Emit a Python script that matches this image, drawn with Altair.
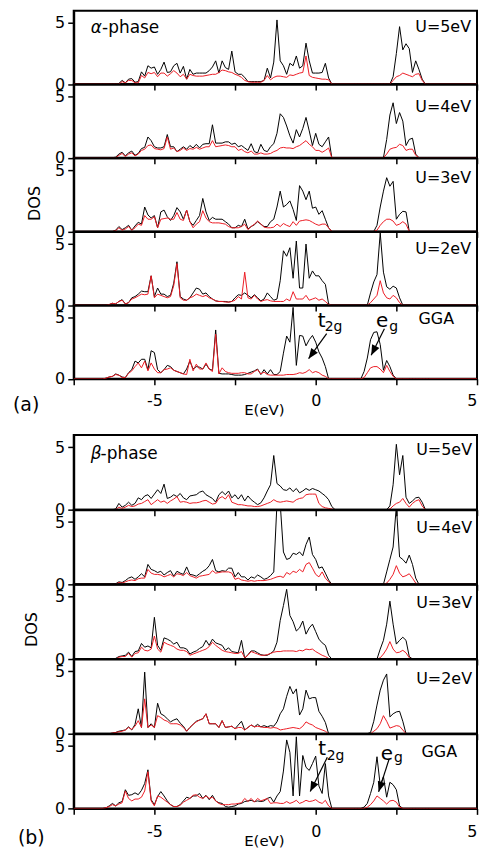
import math
import altair as alt
import pandas as pd

# ---------------- energy grids (eV) ----------------
E_VB = [-6.6, -6.5, -6.4, -6.3, -6.2, -6.1, -6.0, -5.9, -5.8, -5.7,
        -5.6, -5.5, -5.4, -5.3, -5.2, -5.1, -5.0, -4.9, -4.8, -4.7,
        -4.6, -4.5, -4.4, -4.3, -4.2, -4.1, -4.0, -3.9, -3.8, -3.7,
        -3.6, -3.5, -3.4, -3.3, -3.2, -3.1, -3.0, -2.9, -2.8, -2.7,
        -2.6, -2.5, -2.4, -2.3, -2.2, -2.1, -2.0, -1.9, -1.8, -1.7,
        -1.6, -1.5, -1.4, -1.3, -1.2, -1.1, -1.0, -0.9, -0.8, -0.7,
        -0.6, -0.5, -0.4, -0.3, -0.2, -0.1, 0.0, 0.1, 0.2, 0.3,
        0.4, 0.5, 0.6]
E_CB = [1.2, 1.3, 1.4, 1.5, 1.6, 1.7, 1.8, 1.9, 2.0, 2.1, 2.2, 2.3,
        2.4, 2.5, 2.6, 2.7, 2.8, 2.9, 3.0, 3.1, 3.2, 3.3, 3.4, 3.5]
E_MIN, E_MAX = -7.5, 5.0

# ---------------- (a) alpha-phase ----------------
a_u5_black_vb = [0, 0, 0, 0, 0, 0.05, 0.3, 0.1, 0.4, 0.45,
                 0.15, 0.2, 1.0, 0.65, 1.5, 1.3, 1.4, 0.8, 1.2, 1.8,
                 0.95, 1.0, 1.5, 1.7, 0.9, 1.45, 0.4, 1.2, 0.8, 0.9,
                 0.9, 0.9, 0.9, 1.1, 1.4, 1.9, 0.9, 1.9, 1.35, 1.2,
                 2.7, 1.0, 0.8, 0.8, 0.55, 0.2, 0.2, 0.2, 0.2, 0.2,
                 0.3, 1.3, 0.5, 1.8, 5.25, 1.9, 1.5, 0.8, 1.7, 1.5,
                 2.3, 1.3, 1.5, 3.35, 1.9, 0.9, 0.9, 0.9, 0.95, 1.7,
                 0.5, 0, 0]
a_u5_red_vb = [0, 0, 0, 0, 0, 0, 0.2, 0.1, 0.3, 0.3,
               0.1, 0.1, 0.7, 0.5, 0.95, 0.85, 0.95, 0.6, 0.9, 0.9,
               0.65, 0.85, 1.1, 0.9, 0.6, 0.8, 0.4, 0.8, 0.7, 0.65,
               0.65, 0.65, 0.7, 0.75, 0.8, 0.8, 0.95, 1.15, 1.1, 1.0,
               0.95, 0.8, 0.7, 0.55, 0.3, 0.2, 0.15, 0.15, 0.15, 0.15,
               0.3, 0.7, 0.35, 0.55, 0.65, 0.65, 0.6, 0.55, 0.75, 0.7,
               0.8, 0.9, 0.95, 2.3, 0.7, 0.55, 0.5, 0.45, 0.4, 0.4,
               0.35, 0, 0]
a_u5_black_cb = [0, 0, 0, 0, 0, 0, 0, 0, 0, 0, 0, 0,
                 0.6, 2.5, 4.7, 2.8, 3.3, 2.9, 0.95, 1.9, 1.2, 0.4, 0, 0]
a_u5_red_cb = [0, 0, 0, 0, 0, 0, 0, 0, 0, 0, 0, 0,
               0.3, 0.6, 0.7, 0.9, 0.8, 0.7, 0.6, 0.8, 0.85, 0.3, 0, 0]

a_u4_black_vb = [0, 0, 0, 0, 0.05, 0.3, 0.45, 0.15, 0.4, 0.55,
                 0.2, 0.35, 0.75, 0.85, 1.7, 1.4, 0.9, 0.8, 0.8, 0.9,
                 1.9, 0.9, 0.9, 0.5, 0.7, 0.9, 0.7, 1.0, 0.8, 1.1,
                 0.8, 1.1, 1.15, 1.15, 2.7, 1.2, 1.2, 1.2, 1.3, 1.3,
                 1.1, 1.2, 0.9, 1.0, 0.8, 0.6, 1.15, 0.5, 0.4, 1.1,
                 0.6, 0.5, 0.9, 1.15, 2.0, 3.6, 3.3, 2.6, 1.8, 1.2,
                 2.3, 1.7, 2.4, 3.3, 2.2, 1.0, 2.0, 1.1, 0.9, 1.3,
                 1.7, 0, 0]
a_u4_red_vb = [0, 0, 0, 0, 0, 0.2, 0.35, 0.1, 0.3, 0.4,
               0.15, 0.3, 0.6, 0.7, 1.0, 1.05, 0.75, 0.7, 0.65, 0.75,
               1.7, 0.7, 0.8, 0.5, 0.6, 0.8, 0.6, 0.75, 0.7, 0.85,
               0.7, 0.8, 0.9, 0.9, 1.4, 0.9, 0.95, 1.0, 1.05, 1.0,
               0.9, 0.9, 0.6, 0.7, 0.5, 0.4, 0.55, 0.3, 0.3, 0.4,
               0.3, 0.3, 0.35, 0.5, 0.6, 0.8, 0.85, 0.8, 0.8, 0.75,
               0.9, 1.0, 1.2, 1.4, 1.1, 0.9, 0.6, 0.6, 0.45, 0.6,
               0.8, 0, 0]
a_u4_black_cb = [0, 0, 0, 0, 0, 0, 0, 0, 0, 0,
                 1.5, 3.5, 4.5, 2.8, 3.7, 3.0, 1.0, 1.5, 1.6, 0.3, 0, 0, 0, 0]
a_u4_red_cb = [0, 0, 0, 0, 0, 0, 0, 0, 0, 0,
               0.3, 0.7, 0.8, 0.85, 1.1, 1.0, 0.6, 0.7, 0.7, 0.2, 0, 0, 0, 0]

a_u3_black_vb = [0, 0, 0, 0, 0.1, 0.4, 0.15, 0.3, 0.5, 0.1,
                 0.45, 0.75, 0.6, 2.0, 1.35, 1.1, 1.3, 0.3, 1.6, 1.75,
                 1.2, 0.9, 1.3, 1.95, 1.6, 1.0, 1.75, 0.8, 0.5, 0.9,
                 1.3, 2.7, 1.6, 0.9, 1.15, 1.0, 1.0, 1.0, 0.8, 0.6,
                 0.3, 0.3, 0.5, 0.4, 1.0, 0.2, 0.4, 0.55, 0.8, 0.6,
                 0.4, 0.4, 0.8, 1.0, 2.0, 3.3, 2.0, 2.2, 2.5, 1.8,
                 0.9, 3.75, 3.3, 2.6, 3.3, 1.9, 2.0, 1.4, 1.7, 1.0,
                 0.3, 0, 0]
a_u3_red_vb = [0, 0, 0, 0, 0.05, 0.3, 0.1, 0.2, 0.4, 0.1,
               0.3, 0.6, 0.5, 1.3, 1.0, 1.0, 1.2, 0.3, 1.0, 1.05,
               1.1, 1.0, 1.0, 1.55, 1.0, 0.9, 1.75, 0.8, 0.3, 0.6,
               0.8, 1.7, 1.1, 0.8, 0.7, 0.7, 0.7, 0.65, 0.6, 0.4,
               0.3, 0.3, 0.3, 0.4, 0.6, 0.15, 0.4, 0.6, 0.85, 0.6,
               0.35, 0.3, 0.3, 0.35, 0.6, 0.4, 0.65, 0.5, 0.4, 0.8,
               0.5, 0.85, 0.9, 0.95, 0.9, 0.75, 0.6, 0.5, 0.6, 0.6,
               0.3, 0, 0]
a_u3_black_cb = [0, 0, 0, 0, 0, 0, 0,
                 0.5, 2.0, 3.3, 4.4, 3.7, 4.1, 1.0, 1.4, 1.65, 1.6, 0, 0, 0, 0, 0, 0, 0]
a_u3_red_cb = [0, 0, 0, 0, 0, 0, 0,
               0.1, 0.5, 0.8, 1.0, 1.0, 0.85, 0.5, 0.6, 0.8, 0.6, 0, 0, 0, 0, 0, 0, 0]

a_u2_black_vb = [0, 0, 0.05, 0.15, 0.1, 0.3, 0.45, 0.1, 0.2, 0.6,
                 0.7, 0.9, 1.15, 1.1, 1.1, 2.4, 0.7, 1.4, 0.9, 0.9,
                 0.7, 0.8, 1.8, 3.55, 0.7, 0.5, 0.4, 0.6, 1.0, 1.4,
                 1.3, 0.9, 1.0, 0.7, 0.5, 0.35, 0.3, 0.3, 0.3, 0.25,
                 0.3, 0.6, 0.85, 0.8, 1.0, 0.8, 0.6, 0.85, 0.6, 0.35,
                 0.5, 1.0, 0.7, 0.4, 0.5, 2.0, 4.45, 4.0, 4.7, 2.2,
                 5.25, 1.4, 1.4, 5.0, 2.2, 2.8, 2.4, 2.4, 2.0, 1.7,
                 0.1, 0, 0]
a_u2_red_vb = [0, 0, 0.05, 0.15, 0.1, 0.3, 0.4, 0.1, 0.2, 0.5,
               0.6, 0.75, 0.9, 0.85, 0.9, 2.4, 0.6, 0.9, 0.8, 0.7,
               0.6, 0.7, 1.6, 3.4, 0.6, 0.4, 0.4, 0.6, 0.7, 0.9,
               0.8, 0.7, 0.8, 0.6, 0.5, 0.35, 0.3, 0.3, 0.25, 0.25,
               0.3, 0.4, 0.7, 0.5, 2.7, 0.6, 0.5, 0.8, 0.5, 0.3,
               0.4, 0.45, 0.35, 0.3, 0.3, 0.3, 0.3, 0.5, 0.35, 1.1,
               0.5, 0.5, 0.5, 0.8, 0.4, 0.5, 0.6, 0.4, 0.5, 0.3,
               0.05, 0, 0]
a_u2_black_cb = [0, 0, 0, 0, 0,
                 1.0, 1.9, 2.5, 5.9, 2.7, 1.5, 1.3, 1.55, 1.4, 0.6, 0, 0, 0, 0, 0, 0, 0, 0, 0]
a_u2_red_cb = [0, 0, 0, 0, 0,
               0.2, 0.5, 0.8, 2.0, 1.0, 0.6, 0.5, 0.8, 0.6, 0.2, 0, 0, 0, 0, 0, 0, 0, 0, 0]

a_gga_black_vb = [0, 0.05, 0.15, 0.2, 0.4, 0.3, 0.15, 0.1, 0.5, 0.75,
                  1.45, 1.3, 1.6, 1.6, 0.75, 2.3, 2.15, 0.75, 0.5, 0.75,
                  1.1, 1.0, 0.7, 0.6, 0.5, 0.4, 0.8, 1.45, 0.8, 1.0,
                  0.95, 0.8, 1.2, 0.8, 0.7, 4.0, 0.45, 0.4, 0.4, 0.4,
                  0.35, 0.3, 0.3, 0.3, 0.35, 0.45, 0.55, 0.65, 0.8, 0.35,
                  0.75, 0.4, 0.75, 0.35, 0.35, 0.6, 2.1, 3.5, 3.0, 5.85,
                  1.1, 3.55, 3.5, 2.7, 3.2, 3.55, 3.0, 2.2, 1.7, 1.0,
                  0, 0, 0]
a_gga_red_vb = [0, 0.05, 0.15, 0.2, 0.35, 0.3, 0.1, 0.1, 0.45, 0.65,
                1.0, 1.3, 0.9, 1.45, 0.65, 1.3, 0.8, 0.5, 0.5, 0.75,
                0.8, 0.9, 0.7, 0.6, 0.5, 0.4, 0.35, 1.6, 0.65, 1.2,
                0.8, 0.8, 1.3, 0.8, 0.6, 3.65, 0.4, 0.9, 0.6, 0.5,
                0.45, 0.45, 0.45, 0.5, 0.5, 0.4, 0.4, 0.6, 0.75, 0.4,
                0.55, 0.35, 0.3, 0.3, 0.3, 0.3, 0.3, 0.35, 0.35, 0.35,
                0.4, 0.5, 0.45, 0.55, 0.75, 0.5, 0.6, 0.5, 0.3, 0.2,
                0, 0, 0]
a_gga_black_cb = [0, 0, 0,
                  0.6, 1.7, 3.2, 3.8, 3.85, 2.8, 0.7, 1.5, 1.0, 0.3, 0, 0, 0, 0, 0, 0, 0, 0, 0, 0, 0]
a_gga_red_cb = [0, 0, 0,
                0.1, 0.5, 0.9, 1.0, 1.0, 0.8, 0.5, 1.1, 0.6, 0.2, 0, 0, 0, 0, 0, 0, 0, 0, 0, 0, 0]

# ---------------- (b) beta-phase ----------------
b_u5_black_vb = [0, 0, 0, 0, 0.05, 0.5, 0.2, 0.35, 0.6, 0.35,
                 0.5, 0.95, 0.8, 1.1, 1.2, 0.9, 1.25, 1.6, 1.3, 2.05,
                 0.9, 1.0, 1.2, 1.05, 1.3, 0.95, 0.8, 1.1, 1.15, 1.2,
                 1.4, 1.5, 1.2, 1.05, 0.9, 0.6, 1.2, 1.45, 1.2, 1.5,
                 0.95, 1.2, 0.85, 1.2, 0.7, 1.1, 0.8, 0.6, 0.4, 0.55,
                 0.95, 1.5, 2.0, 4.35, 2.1, 1.9, 1.6, 1.55, 1.75, 1.45,
                 1.7, 1.35, 1.5, 1.7, 1.55, 1.7, 1.6, 1.5, 1.3, 1.1,
                 0.8, 0.25, 0]
b_u5_red_vb = [0, 0, 0, 0, 0, 0.2, 0.1, 0.2, 0.35, 0.25,
               0.3, 0.45, 0.5, 0.65, 0.8, 0.4, 0.6, 0.8, 0.6, 0.7,
               0.5, 0.7, 0.85, 1.05, 0.6, 0.65, 0.6, 0.5, 0.55, 0.55,
               0.6, 0.7, 0.75, 0.6, 0.45, 0.5, 0.9, 1.05, 0.85, 1.2,
               0.6, 0.5, 0.4, 0.4, 0.35, 0.3, 0.3, 0.25, 0.25, 0.3,
               0.4, 0.5, 0.6, 0.8, 0.65, 0.6, 0.65, 0.7, 0.65, 0.6,
               0.8, 0.9, 0.95, 1.2, 1.25, 1.25, 1.25, 0.5, 0.25, 0.15,
               0.1, 0.05, 0]
b_u5_black_cb = [0, 0, 0, 0, 0, 0, 0, 0, 0, 0, 0,
                 0.3, 2.0, 5.25, 2.8, 4.35, 1.0, 0.5, 0.7, 0.95, 1.0, 0.6, 0, 0]
b_u5_red_cb = [0, 0, 0, 0, 0, 0, 0, 0, 0, 0, 0,
               0.05, 0.3, 0.5, 0.6, 0.9, 0.5, 0.2, 0.5, 0.7, 0.8, 0.3, 0, 0]

b_u4_black_vb = [0, 0, 0, 0, 0.05, 0.2, 0.15, 0.3, 0.5, 0.6,
                 0.4, 0.6, 0.85, 0.6, 1.6, 1.2, 1.1, 0.95, 1.05, 0.75,
                 0.95, 1.1, 0.65, 1.05, 0.9, 0.8, 1.4, 0.8, 0.75, 0.65,
                 0.85, 1.05, 1.2, 1.5, 2.0, 1.1, 1.0, 1.1, 1.05, 1.3,
                 1.3, 0.6, 0.95, 0.6, 0.6, 0.35, 0.6, 0.5, 0.75, 0.6,
                 0.4, 0.5, 0.7, 1.0, 6.5, 6.5, 2.6, 2.0, 2.1, 2.5,
                 2.4, 2.6, 2.3, 3.2, 3.8, 2.4, 2.0, 1.3, 1.4, 0.9,
                 0.35, 0, 0]
b_u4_red_vb = [0, 0, 0, 0, 0, 0.15, 0.1, 0.2, 0.3, 0.35,
               0.3, 0.45, 0.5, 0.5, 1.2, 0.9, 0.8, 0.8, 0.75, 0.6,
               0.7, 0.8, 0.6, 0.85, 0.8, 0.7, 0.95, 0.7, 0.6, 0.5,
               0.65, 0.7, 0.75, 0.8, 1.1, 0.9, 0.95, 1.0, 1.0, 1.0,
               0.9, 0.4, 0.5, 0.35, 0.3, 0.25, 0.3, 0.25, 0.3, 0.3,
               0.3, 0.35, 0.4, 0.5, 0.6, 0.65, 0.55, 0.95, 0.8, 1.05,
               0.95, 1.2, 1.0, 1.6, 1.75, 1.3, 0.8, 0.6, 1.0, 0.5,
               0.2, 0, 0]
b_u4_black_cb = [0, 0, 0, 0, 0, 0, 0, 0, 0, 0,
                 1.0, 2.0, 3.0, 6.3, 2.2, 2.0, 1.7, 2.35, 1.6, 0.5, 0, 0, 0, 0]
b_u4_red_cb = [0, 0, 0, 0, 0, 0, 0, 0, 0, 0,
               0.1, 0.4, 0.8, 1.5, 0.9, 0.6, 0.7, 0.85, 0.5, 0.1, 0, 0, 0, 0]

b_u3_black_vb = [0, 0, 0, 0, 0.05, 0.2, 0.25, 0.3, 0.55, 0.2,
                 0.6, 0.65, 1.25, 0.95, 1.05, 0.9, 3.35, 1.1, 0.7, 1.7,
                 1.6, 1.45, 1.2, 1.35, 0.9, 0.9, 0.8, 0.4, 0.55, 0.65,
                 0.85, 1.0, 1.5, 1.1, 1.6, 1.3, 1.2, 1.1, 0.7, 0.9,
                 0.6, 0.55, 0.5, 1.5, 0.05, 0.35, 0.65, 0.65, 0.5, 0.35,
                 0.3, 0.3, 0.45, 0.65, 1.35, 3.1, 4.3, 5.6, 3.5, 3.0,
                 2.25, 2.5, 3.05, 2.0, 2.5, 2.8, 2.2, 1.6, 1.3, 1.1,
                 0.3, 0, 0]
b_u3_red_vb = [0, 0, 0, 0, 0, 0.15, 0.2, 0.2, 0.45, 0.15,
               0.45, 0.5, 0.95, 0.7, 0.65, 0.8, 1.85, 0.8, 0.55, 1.35,
               1.2, 1.1, 1.0, 0.8, 0.7, 0.7, 0.6, 0.3, 0.4, 0.5,
               0.6, 0.7, 0.8, 1.0, 1.35, 1.1, 0.9, 0.7, 0.6, 0.55,
               0.5, 0.45, 0.45, 0.6, 0.1, 0.3, 0.6, 0.5, 0.4, 0.3,
               0.3, 0.35, 0.45, 0.55, 0.6, 0.6, 0.65, 0.65, 0.65, 0.65,
               0.6, 0.7, 0.65, 0.8, 0.75, 0.8, 0.6, 0.45, 0.3, 0.2,
               0.05, 0, 0]
b_u3_black_cb = [0, 0, 0, 0, 0, 0, 0, 0,
                 0.8, 1.5, 2.8, 4.65, 2.8, 1.2, 1.5, 1.75, 1.5, 0.2, 0, 0, 0, 0, 0, 0]
b_u3_red_cb = [0, 0, 0, 0, 0, 0, 0, 0,
               0.1, 0.4, 0.8, 1.4, 0.8, 0.5, 0.55, 0.7, 0.5, 0.1, 0, 0, 0, 0, 0, 0]

b_u2_black_vb = [0, 0, 0, 0.05, 0.1, 0.2, 0.25, 0.3, 0.55, 0.3,
                 0.75, 2.0, 0.5, 4.95, 0.5, 0.8, 0.5, 2.45, 1.6, 1.45,
                 1.2, 0.95, 1.1, 1.2, 0.85, 0.6, 0.2, 0.5, 0.75, 1.0,
                 1.1, 1.2, 1.6, 0.8, 0.8, 0.8, 0.5, 1.05, 0.5, 0.55,
                 0.6, 0.4, 0.7, 1.0, 0.3, 0.5, 0.7, 0.55, 0.75, 0.55,
                 0.65, 0.55, 0.65, 0.6, 0.95, 1.6, 2.0, 3.0, 3.8, 3.2,
                 3.6, 1.5, 2.0, 3.5, 2.8, 2.9, 2.9, 1.8, 1.4, 0.9,
                 0, 0, 0]
b_u2_red_vb = [0, 0, 0, 0.05, 0.1, 0.15, 0.2, 0.3, 0.5, 0.35,
               0.6, 1.05, 0.5, 2.8, 0.5, 0.7, 0.5, 1.45, 1.3, 1.1,
               1.0, 0.8, 0.8, 0.8, 0.7, 0.5, 0.2, 0.5, 0.75, 0.95,
               1.1, 1.2, 1.6, 0.8, 0.8, 0.8, 0.5, 1.05, 0.5, 0.55,
               0.6, 0.4, 0.5, 0.5, 0.3, 0.5, 0.7, 0.55, 0.6, 0.55,
               0.5, 0.5, 0.45, 0.5, 0.45, 0.3, 0.35, 0.4, 0.45, 0.5,
               0.45, 0.4, 0.6, 0.95, 0.8, 0.7, 0.5, 0.4, 0.3, 0.2,
               0, 0, 0]
b_u2_black_cb = [0, 0, 0, 0, 0,
                 0.1, 1.0, 2.3, 3.5, 4.3, 4.8, 1.35, 1.6, 1.75, 1.8, 1.0, 0, 0, 0, 0, 0, 0, 0, 0]
b_u2_red_cb = [0, 0, 0, 0, 0,
               0, 0.2, 0.4, 0.8, 1.45, 1.0, 0.45, 0.55, 0.65, 0.6, 0.3, 0, 0, 0, 0, 0, 0, 0, 0]

b_gga_black_vb = [0, 0.05, 0.2, 0.4, 0.2, 0.45, 0.55, 1.5, 1.05, 1.1,
                  1.25, 1.1, 1.45, 2.0, 3.1, 0.7, 0.3, 0.95, 1.35, 1.0,
                  0.6, 0.3, 0.15, 0.15, 0.3, 0.6, 0.9, 0.8, 1.0, 1.0,
                  1.2, 0.8, 1.05, 0.7, 1.05, 0.6, 0.45, 0.4, 0.15, 0.1,
                  0.15, 0.2, 0.35, 0.4, 0.55, 0.6, 0.65, 0.55, 0.6, 0.55,
                  0.6, 0.8, 0.9, 0.5, 1.0, 1.35, 3.0, 5.5, 4.5, 1.0,
                  5.75, 1.0, 4.25, 3.3, 3.05, 3.6, 4.2, 1.8, 1.2, 3.6,
                  1.0, 0, 0]
b_gga_red_vb = [0, 0.05, 0.15, 0.3, 0.2, 0.35, 0.45, 1.4, 0.8, 0.6,
                0.75, 0.75, 0.9, 1.4, 2.95, 0.6, 0.2, 1.0, 0.9, 0.7,
                0.5, 0.3, 0.15, 0.15, 0.25, 0.5, 0.65, 0.8, 1.05, 1.1,
                0.9, 0.8, 1.0, 0.8, 0.9, 0.6, 0.4, 0.3, 0.3, 0.3,
                0.35, 0.35, 0.4, 0.45, 0.8, 0.55, 0.8, 0.5, 0.8, 0.6,
                0.7, 0.8, 0.4, 0.45, 0.45, 0.4, 0.4, 0.55, 0.4, 0.5,
                0.65, 0.4, 0.5, 0.65, 0.55, 0.6, 0.7, 0.5, 0.4, 0.65,
                0.2, 0, 0]
b_gga_black_cb = [0, 0, 0,
                  0.1, 0.4, 1.2, 2.1, 4.15, 1.85, 2.55, 0.9, 2.1, 1.9, 1.5, 0.2, 0, 0, 0, 0, 0, 0, 0, 0, 0]
b_gga_red_cb = [0, 0, 0,
                0, 0.1, 0.3, 0.6, 1.0, 0.8, 0.6, 0.35, 0.6, 0.65, 0.5, 0.1, 0, 0, 0, 0, 0, 0, 0, 0, 0]

# ---------------- labels & annotations ----------------
A_LABELS = ["U=5eV", "U=4eV", "U=3eV", "U=2eV", "GGA"]
B_LABELS = ["U=5eV", "U=4eV", "U=3eV", "U=2eV", "GGA"]

# arrows: start (E, DOS) -> tip (E, DOS)
A_ARROW_E0 = [0.34, 2.13]
A_ARROW_D0 = [3.7, 4.1]
A_ARROW_E1 = [-0.22, 1.72]
A_ARROW_D1 = [1.65, 1.93]
B_ARROW_E0 = [0.36, 2.28]
B_ARROW_D0 = [4.1, 4.0]
B_ARROW_E1 = [-0.17, 1.95]
B_ARROW_D1 = [1.35, 1.33]

# orbital labels (main letter, subscript)
A_ORB_TEXT = ["t", "e"]
A_ORB_E = [0.06, 1.87]
A_ORB_D = [4.21, 4.21]
A_SUB_TEXT = ["2g", "g"]
A_SUB_E = [0.28, 2.28]
A_SUB_D = [3.95, 3.95]
B_ORB_TEXT = ["t", "e"]
B_ORB_E = [0.08, 2.02]
B_ORB_D = [4.26, 3.86]
B_SUB_TEXT = ["2g", "g"]
B_SUB_E = [0.34, 2.43]
B_SUB_D = [3.86, 3.73]

FONT = "DejaVu Sans"
RED = "#ec1c24"
W = 405
X_TICKS = [-7.5, -5, -2.5, 0, 2.5, 5]
Y_TICKS = [0, 2.5, 5]

GROUPS = [
    dict(
        key="a", h=73.6, greek="α", phase_x=(17, 28.5), phase_y=22.7,
        labels=A_LABELS, lab_x=[399, 399, 399, 399, 382],
        lab_y=[21, 27.4, 24.5, 21.9, 18.3],
        data=[(a_u5_black_vb, a_u5_red_vb, a_u5_black_cb, a_u5_red_cb),
              (a_u4_black_vb, a_u4_red_vb, a_u4_black_cb, a_u4_red_cb),
              (a_u3_black_vb, a_u3_red_vb, a_u3_black_cb, a_u3_red_cb),
              (a_u2_black_vb, a_u2_red_vb, a_u2_black_cb, a_u2_red_cb),
              (a_gga_black_vb, a_gga_red_vb, a_gga_black_cb, a_gga_red_cb)],
        tag="(a)", tag_x=-61, tag_y=106, label_pad=8, title_pad=-6, dos_pad=12,
        arrows=(A_ARROW_E0, A_ARROW_D0, A_ARROW_E1, A_ARROW_D1),
        orb=(A_ORB_TEXT, A_ORB_E, A_ORB_D), sub=(A_SUB_TEXT, A_SUB_E, A_SUB_D),
    ),
    dict(
        key="b", h=75, greek="β", phase_x=(17, 27), phase_y=23.7,
        labels=B_LABELS, lab_x=[400, 400, 400, 400, 385],
        lab_y=[20, 23.4, 23.4, 25, 23.4],
        data=[(b_u5_black_vb, b_u5_red_vb, b_u5_black_cb, b_u5_red_cb),
              (b_u4_black_vb, b_u4_red_vb, b_u4_black_cb, b_u4_red_cb),
              (b_u3_black_vb, b_u3_red_vb, b_u3_black_cb, b_u3_red_cb),
              (b_u2_black_vb, b_u2_red_vb, b_u2_black_cb, b_u2_red_cb),
              (b_gga_black_vb, b_gga_red_vb, b_gga_black_cb, b_gga_red_cb)],
        tag="(b)", tag_x=-56, tag_y=111, label_pad=9, title_pad=-6, dos_pad=15,
        arrows=(B_ARROW_E0, B_ARROW_D0, B_ARROW_E1, B_ARROW_D1),
        orb=(B_ORB_TEXT, B_ORB_E, B_ORB_D), sub=(B_SUB_TEXT, B_SUB_E, B_SUB_D),
    ),
]
GAP = 56  # vertical gap between the two stacks (room for axis labels and title)

XS = alt.Scale(domain=[E_MIN, E_MAX], nice=False, zero=False)
YS = alt.Scale(domain=[0, 6], nice=False, zero=True)
E_ALL = [E_MIN] + E_VB + E_CB + [E_MAX]


def text_layer(txt, x, y, align="left", size=16, style="normal"):
    return alt.Chart(pd.DataFrame({"t": [txt]})).mark_text(
        align=align, baseline="alphabetic", font=FONT, fontSize=size, fontStyle=style, color="black"
    ).encode(x=alt.value(x), y=alt.value(y), text="t:N")


def panel(g, i):
    H = g["h"]
    bottom = i == 4
    bvb, rvb, bcb, rcb = g["data"][i]
    df_b = pd.DataFrame({"E": E_ALL, "DOS": [0] + list(bvb) + list(bcb) + [0]})
    df_r = pd.DataFrame({"E": E_ALL, "DOS": [0] + list(rvb) + list(rcb) + [0]})

    xkw = dict(values=X_TICKS, labelFlush=True, grid=False, tickSize=6,
               labelExpr="datum.value == -5 ? '-5' : (datum.value == 0 ? '0' : (datum.value == 5 ? '5' : ''))")
    if bottom:
        xkw.update(labels=True, title="E(eV)", labelPadding=g["label_pad"],
                   titlePadding=g["title_pad"], titleX=191)
    else:
        xkw.update(labels=False, title=None)
    ykw = dict(values=Y_TICKS, grid=False, tickSize=6,
               labelExpr="datum.value == 2.5 ? '' : datum.label")
    if i == 2:
        ykw.update(title="DOS", titlePadding=g["dos_pad"], titleY=45, titleFontSize=16)
    else:
        ykw.update(title=None)

    black = alt.Chart(df_b).mark_line(color="black", strokeWidth=1, clip=True, strokeJoin="round").encode(
        x=alt.X("E:Q", scale=XS, axis=alt.Axis(**xkw)),
        y=alt.Y("DOS:Q", scale=YS, axis=alt.Axis(**ykw)),
    )
    red = alt.Chart(df_r).mark_line(color=RED, strokeWidth=1, clip=True, strokeJoin="round").encode(
        x=alt.X("E:Q", scale=XS),
        y=alt.Y("DOS:Q", scale=YS),
    )
    layers = [black, red,
              text_layer(g["labels"][i], g["lab_x"][i], g["lab_y"][i], align="right")]
    if i == 0:
        layers.append(text_layer(g["greek"], g["phase_x"][0], g["phase_y"], size=17, style="italic"))
        layers.append(text_layer("-phase", g["phase_x"][1], g["phase_y"], size=17))
    if bottom:
        layers.append(text_layer(g["tag"], g["tag_x"], g["tag_y"], size=19))
        e0, d0, e1, d1 = g["arrows"]
        pxx = W / (E_MAX - E_MIN)
        pxy = H / 6.0
        ang = []
        for a, b, c, d in zip(e0, d0, e1, d1):
            dx = (c - a) * pxx
            dy = -(d - b) * pxy
            ang.append(math.degrees(math.atan2(dx, -dy)) % 360)
        rule_df = pd.DataFrame({"E": e0, "DOS": d0, "E2": e1, "DOS2": d1})
        head_df = pd.DataFrame({"E": e1, "DOS": d1, "ang": ang})
        layers.append(alt.Chart(rule_df).mark_rule(color="black", strokeWidth=1.2).encode(
            x=alt.X("E:Q", scale=XS), y=alt.Y("DOS:Q", scale=YS),
            x2="E2:Q", y2="DOS2:Q"))
        layers.append(alt.Chart(head_df).mark_point(
            shape="M0,0L-0.4,1L0.4,1Z", filled=True, size=420, color="black", opacity=1
        ).encode(
            x=alt.X("E:Q", scale=XS), y=alt.Y("DOS:Q", scale=YS),
            angle=alt.Angle("ang:Q", scale=None)))
        ot, oe, od = g["orb"]
        st, se, sd = g["sub"]
        layers.append(alt.Chart(pd.DataFrame({"t": ot, "E": oe, "DOS": od})).mark_text(
            align="left", baseline="alphabetic", font=FONT, fontSize=20, color="black"
        ).encode(x=alt.X("E:Q", scale=XS), y=alt.Y("DOS:Q", scale=YS), text="t:N"))
        layers.append(alt.Chart(pd.DataFrame({"t": st, "E": se, "DOS": sd})).mark_text(
            align="left", baseline="alphabetic", font=FONT, fontSize=14, color="black"
        ).encode(x=alt.X("E:Q", scale=XS), y=alt.Y("DOS:Q", scale=YS), text="t:N"))
    return alt.layer(*layers).properties(width=W, height=H)


spacer = alt.Chart(pd.DataFrame({"E": [0.0]})).mark_point(opacity=0).encode(
    x=alt.X("E:Q", axis=None), y=alt.Y("E:Q", axis=None)
).properties(width=W, height=GAP, view=alt.ViewBackground(stroke=None))

rows = [panel(GROUPS[0], i) for i in range(5)] + [spacer] + [panel(GROUPS[1], i) for i in range(5)]

chart = alt.vconcat(*rows, spacing=0, bounds="flush").properties(
    padding={"left": 4, "top": 0, "right": 0, "bottom": 0},
).configure(font=FONT).configure_view(
    stroke="black", strokeWidth=2
).configure_axis(
    labelFont=FONT, titleFont=FONT, labelFontSize=16, titleFontSize=15,
    titleFontWeight="normal", labelColor="black", titleColor="black",
    domainColor="black", domainWidth=2, tickColor="black", tickWidth=1.5,
    labelPadding=3,
)

chart.save("out.html", embed_options={"renderer": "svg", "actions": False})
